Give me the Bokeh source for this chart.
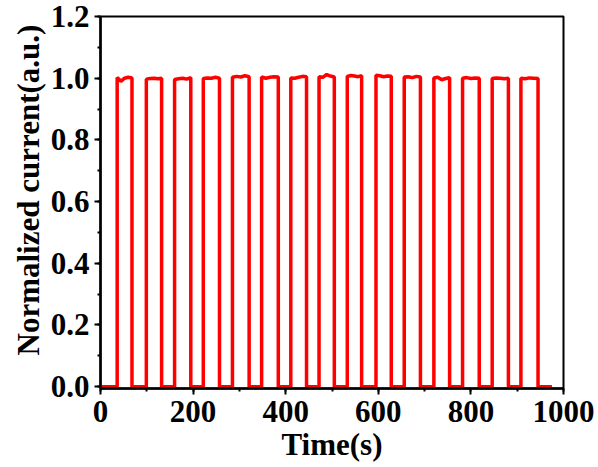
from bokeh.plotting import figure
from bokeh.models import Range1d, SingleIntervalTicker, CustomJSTickFormatter, Title
from bokeh.embed import file_html
from bokeh.resources import INLINE

# Switching edges of the light (seconds)
on_times = [36, 99, 160, 222, 285, 348, 411, 472, 533, 595, 656, 720, 782, 846, 908]
off_times = [68, 132, 195, 257, 321, 384, 445, 505, 564, 628, 691, 754, 818, 881, 945]
end_time = 975

# Normalized photocurrent readings across each "on" plateau
plateau_values = [
    [1.002, 0.990, 1.000, 1.003, 1.001],
    [0.997, 0.999, 1.000, 0.998, 1.000],
    [0.996, 0.998, 1.000, 0.997, 1.002],
    [0.999, 1.001, 1.000, 1.003, 1.000],
    [1.003, 1.006, 1.004, 1.008, 1.005],
    [1.004, 1.000, 1.003, 1.005, 1.004],
    [1.001, 1.000, 1.003, 1.006, 1.005],
    [1.005, 1.003, 1.012, 1.007, 1.004],
    [1.006, 1.009, 1.007, 1.005, 1.008],
    [1.010, 1.008, 1.005, 1.007, 1.006],
    [1.004, 1.005, 1.002, 1.006, 1.004],
    [1.001, 1.003, 0.995, 0.999, 1.002],
    [1.000, 1.002, 0.999, 1.001, 1.000],
    [0.999, 1.001, 1.000, 0.998, 1.000],
    [1.000, 0.998, 1.001, 1.000, 0.999],
]
dark_level = 0.0

# Build the on/off square-wave trace
t, i = [0.0], [dark_level]
for t_on, t_off, vals in zip(on_times, off_times, plateau_values):
    t += [t_on]
    i += [dark_level]
    n = len(vals)
    for k, v in enumerate(vals):
        t.append(t_on + (t_off - t_on) * k / (n - 1))
        i.append(v)
    t.append(t_off)
    i.append(dark_level)
t.append(end_time)
i.append(dark_level)

FONT = "Liberation Serif"
SIZE = "31px"

p = figure(width=598, height=467, output_backend="svg", toolbar_location=None,
           x_range=Range1d(0, 1000), y_range=Range1d(-0.006, 1.2001))
p.min_border_left = 100
p.min_border_right = 35
p.min_border_top = 16
p.min_border_bottom = 79
p.background_fill_color = "white"
p.border_fill_color = "white"
p.grid.visible = False
p.outline_line_color = "black"
p.outline_line_width = 2

p.line(t, i, line_color="#ff0000", line_width=3.5)

p.xaxis.ticker = SingleIntervalTicker(interval=200, num_minor_ticks=2)
p.yaxis.ticker = SingleIntervalTicker(interval=0.2, num_minor_ticks=2)
p.yaxis.formatter = CustomJSTickFormatter(code="return tick.toFixed(1);")

for ax in (p.xaxis, p.yaxis):
    ax.axis_line_width = 2.5
    ax.axis_line_color = "black"
    ax.major_tick_line_width = 2
    ax.minor_tick_line_width = 2
    ax.major_tick_in = 0
    ax.major_tick_out = 6
    ax.minor_tick_in = 0
    ax.minor_tick_out = 3
    ax.major_label_text_font = FONT
    ax.major_label_text_font_style = "bold"
    ax.major_label_text_font_size = SIZE
    ax.major_label_text_color = "black"
    ax.axis_label_text_font = FONT
    ax.axis_label_text_font_style = "bold"
    ax.axis_label_text_font_size = SIZE
    ax.axis_label_text_color = "black"

p.xaxis.axis_label = "Time(s)"
p.xaxis.major_label_standoff = 6
p.yaxis.major_label_standoff = 5
p.xaxis.axis_label_standoff = 2

# Y axis title, starting a little above the frame's bottom
p.add_layout(Title(text="Normalized current(a.u.)", align="left", offset=33,
                   text_font=FONT, text_font_style="bold", text_font_size=SIZE,
                   text_color="black", standoff=4), "left")

open("out.html", "w").write(file_html(p, INLINE))
